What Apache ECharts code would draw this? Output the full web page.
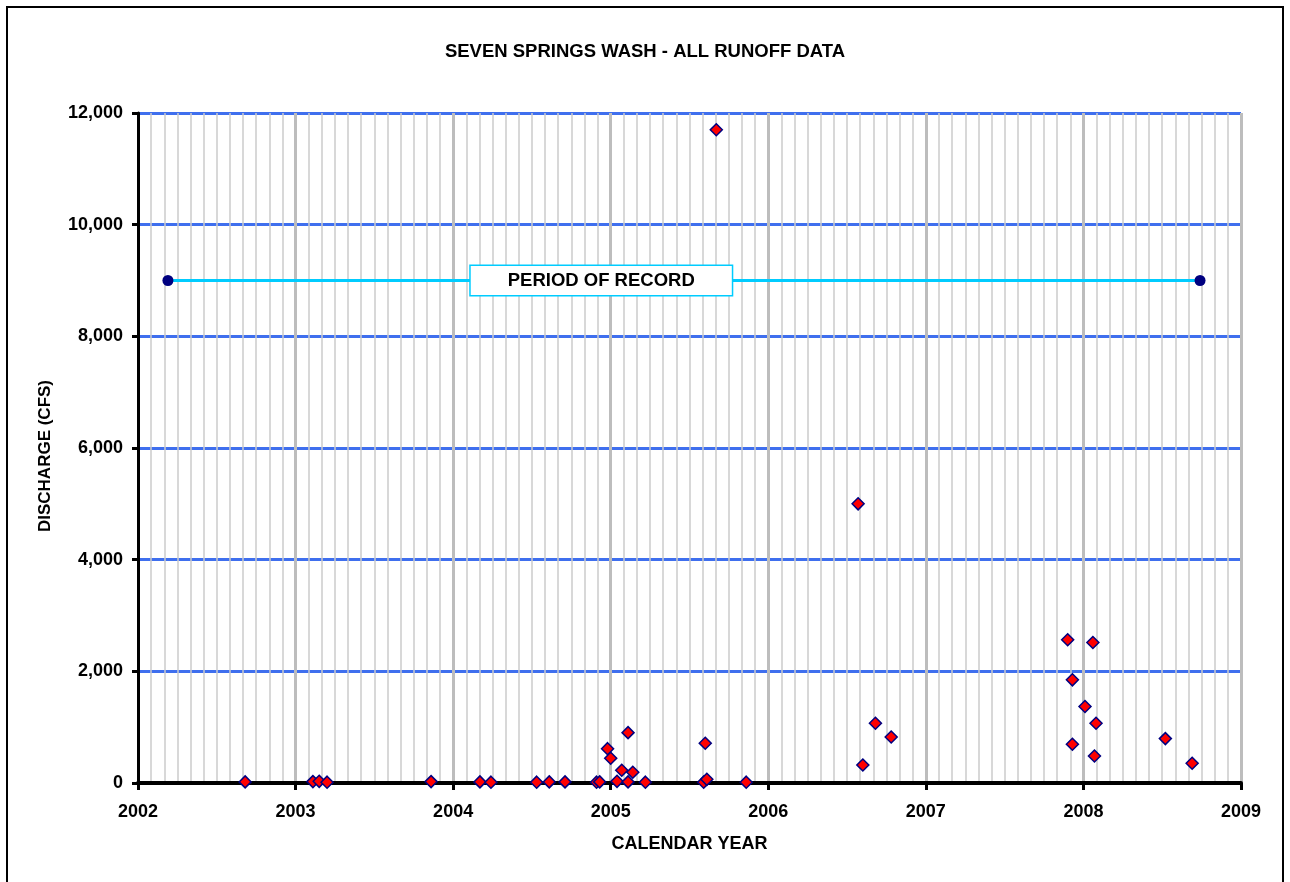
<!DOCTYPE html>
<html>
<head>
<meta charset="utf-8">
<script src="https://cdn.jsdelivr.net/npm/echarts@6/dist/echarts.min.js"></script>
<style>
  html, body { margin: 0; padding: 0; background: #ffffff; }
  #chart { width: 1290px; height: 882px; }
</style>
</head>
<body>
<div id="chart"></div>
<script>
// Runoff events: date as decimal calendar year, peak discharge in cfs
const eventYears = [
  2002.68, 2003.11, 2003.15, 2003.20, 2003.86, 2004.17, 2004.24, 2004.53,
  2004.61, 2004.71, 2004.91, 2004.93, 2004.98, 2005.00, 2005.04, 2005.07,
  2005.11, 2005.11, 2005.14, 2005.22, 2005.59, 2005.60, 2005.61, 2005.67,
  2005.86, 2006.57, 2006.60, 2006.68, 2006.78, 2007.90, 2007.93, 2007.93,
  2008.01, 2008.06, 2008.07, 2008.08, 2008.52, 2008.69
];
const eventDischarge = [
  20, 25, 30, 15, 25, 20, 15, 15,
  20, 20, 15, 20, 615, 443, 30, 228,
  902, 20, 192, 15, 15, 712, 66, 11700,
  15, 5000, 323, 1071, 825, 2565, 1848, 694,
  1369, 2517, 484, 1071, 795, 353
];

// Period of record bar
const periodYears = [2002.19, 2008.74];
const periodDischarge = [9000, 9000];
const periodLabel = 'PERIOD OF RECORD';
const periodLabelYear = 2004.94;

// Axis ranges and tick spacing
const yearMin = 2002, yearMax = 2009, yearStep = 1, monthsPerYear = 12;
const flowMin = 0, flowMax = 12000, flowStep = 2000;

const FONT = '"Liberation Sans", Arial, sans-serif';

const chart = echarts.init(document.getElementById('chart'), null, { renderer: 'canvas' });

chart.setOption({
  backgroundColor: '#ffffff',
  animation: false,
  title: {
    text: 'SEVEN SPRINGS WASH - ALL RUNOFF DATA',
    left: 'center',
    top: 37,
    textStyle: { fontFamily: FONT, fontSize: 18.5, fontWeight: 'bold', color: '#000' }
  },
  graphic: [{
    type: 'rect',
    shape: { x: 7, y: 7, width: 1276, height: 920 },
    style: { fill: 'none', stroke: '#000', lineWidth: 2 },
    silent: true,
    z: 100
  }],
  grid: { left: 138, right: 49, top: 113, bottom: 99, containLabel: false },
  xAxis: {
    type: 'value',
    min: yearMin,
    max: yearMax,
    interval: yearStep,
    name: 'CALENDAR YEAR',
    nameLocation: 'middle',
    nameGap: 52,
    nameTextStyle: { fontFamily: FONT, fontSize: 18, fontWeight: 'bold', color: '#000' },
    axisLine: { show: true, onZero: true, lineStyle: { color: '#000', width: 4 } },
    axisTick: { show: true, inside: false, length: 7, lineStyle: { color: '#000', width: 3 } },
    axisLabel: {
      margin: 20,
      fontFamily: FONT, fontSize: 18, fontWeight: 'bold', color: '#000',
      formatter: v => String(v)
    },
    splitLine: { show: true, lineStyle: { color: '#bdbdbd', width: 3 } },
    minorTick: { show: false, splitNumber: monthsPerYear },
    minorSplitLine: { show: true, lineStyle: { color: '#cccccc', width: 1.5 } }
  },
  yAxis: {
    type: 'value',
    min: flowMin,
    max: flowMax,
    interval: flowStep,
    name: 'DISCHARGE (CFS)',
    nameLocation: 'middle',
    nameGap: 84,
    nameRotate: 90,
    nameTextStyle: {
      fontFamily: FONT, fontSize: 17, fontWeight: 'bold', color: '#000',
      padding: [0, 16, 0, 0]
    },
    axisLine: { show: true, lineStyle: { color: '#000', width: 3 } },
    axisTick: { show: true, inside: false, length: 6, lineStyle: { color: '#000', width: 3 } },
    axisLabel: {
      margin: 15,
      fontFamily: FONT, fontSize: 18, fontWeight: 'bold', color: '#000',
      formatter: v => v.toLocaleString('en-US')
    },
    splitLine: { show: true, lineStyle: { color: '#3f6fee', width: 3 } }
  },
  series: [
    {
      name: 'Period of record',
      type: 'line',
      data: periodYears.map((yr, i) => [yr, periodDischarge[i]]),
      symbol: 'circle',
      symbolSize: 11,
      itemStyle: { color: '#000080' },
      lineStyle: { color: '#00ccff', width: 3 },
      z: 3,
      markPoint: {
        symbol: 'rect',
        symbolSize: 0,
        silent: true,
        data: [{ coord: [periodLabelYear, periodDischarge[0]], value: periodLabel }],
        label: {
          show: true,
          position: 'inside',
          formatter: periodLabel,
          fontFamily: FONT, fontSize: 18.5, fontWeight: 'bold', color: '#000',
          backgroundColor: '#ffffff',
          borderColor: '#00ccff',
          borderWidth: 1.5,
          padding: [5, 37, 5, 37]
        }
      }
    },
    {
      name: 'Runoff events',
      type: 'scatter',
      data: eventYears.map((yr, i) => [yr, eventDischarge[i]]),
      symbol: 'diamond',
      symbolSize: 12,
      itemStyle: { color: '#ff0000', borderColor: '#000080', borderWidth: 1.5, opacity: 1 },
      z: 5
    }
  ]
});
</script>
</body>
</html>
